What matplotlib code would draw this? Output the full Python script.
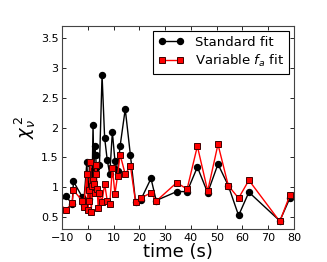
import matplotlib
matplotlib.use("Agg")
import matplotlib.pyplot as plt

t = [-11.5, -8.6, -6.1, -5.6, -2.2, -1.7, -0.4, 0.0, 0.3, 0.6, 1.0, 1.3, 1.7,
     2.0, 2.3, 2.7, 3.0, 3.3, 3.6, 4.0, 4.5, 5.5, 6.5, 7.5, 8.5, 9.5, 10.5,
     11.5, 12.5, 14.5, 16.5, 18.5, 20.5, 24.5, 26.5, 34.5, 38.5, 42.5, 46.5,
     50.5, 54.5, 58.5, 62.5, 74.5, 78.5]
standard = [0.72, 0.86, 0.72, 1.10, 0.84, 0.70, 1.42, 1.00, 0.80, 1.40, 1.20,
            0.90, 1.25, 2.05, 1.30, 1.69, 1.55, 1.32, 1.35, 1.38, 1.38, 2.88,
            1.83, 1.46, 1.22, 1.93, 1.44, 1.27, 1.69, 2.31, 1.54, 0.76, 0.79,
            1.15, 0.78, 0.93, 0.93, 1.34, 0.91, 1.39, 1.03, 0.53, 0.92, 0.44,
            0.83]
variable = [0.76, 0.62, 0.74, 0.95, 0.78, 0.67, 1.22, 0.63, 0.77, 0.95, 1.42,
            0.59, 1.03, 1.12, 1.06, 0.90, 1.38, 1.22, 0.98, 0.65, 0.90, 0.76,
            1.06, 0.78, 0.72, 1.33, 0.89, 1.19, 1.55, 1.22, 1.36, 0.76, 0.82,
            0.91, 0.77, 1.08, 0.97, 1.69, 0.94, 1.72, 1.03, 0.82, 1.12, 0.43,
            0.88]

fig = plt.figure(figsize=(3.27, 2.62), dpi=100)
ax = fig.add_axes([0.19, 0.125, 0.709, 0.776])

ax.plot(t, standard, '-o', color='black', lw=1.0, ms=4.3, mec='black',
        label='Standard fit')
ax.plot(t, variable, '-s', color='red', lw=1.0, ms=4.3, mfc='red', mec='#400000',
        mew=0.7, label='Variable $f_a$ fit')

ax.set_xlim(-10, 80)
ax.set_ylim(0.3, 3.7)
ax.set_xticks(range(-10, 81, 10))
ax.set_yticks([0.5, 1, 1.5, 2, 2.5, 3, 3.5])
ax.set_yticklabels(['0.5', '1', '1.5', '2', '2.5', '3', '3.5'])
ax.tick_params(direction='in', top=True, right=True, labelsize=8, length=3,
               pad=2.5, width=0.6)
for s in ax.spines.values():
    s.set_linewidth(0.8)
    s.set_color('#444444')

ax.set_xlabel('time (s)', fontsize=13, labelpad=0.5)
ax.set_ylabel(r'$\chi_\nu^{\,2}$', fontsize=13, labelpad=2)

leg = ax.legend(loc='upper right', numpoints=2, fontsize=9.5, fancybox=False,
                framealpha=1, edgecolor='black', borderaxespad=0.35,
                handlelength=2.0, handletextpad=0.8, borderpad=0.4,
                labelspacing=0.3)
leg.get_frame().set_linewidth(0.8)

fig.savefig('out.png', dpi=100)
